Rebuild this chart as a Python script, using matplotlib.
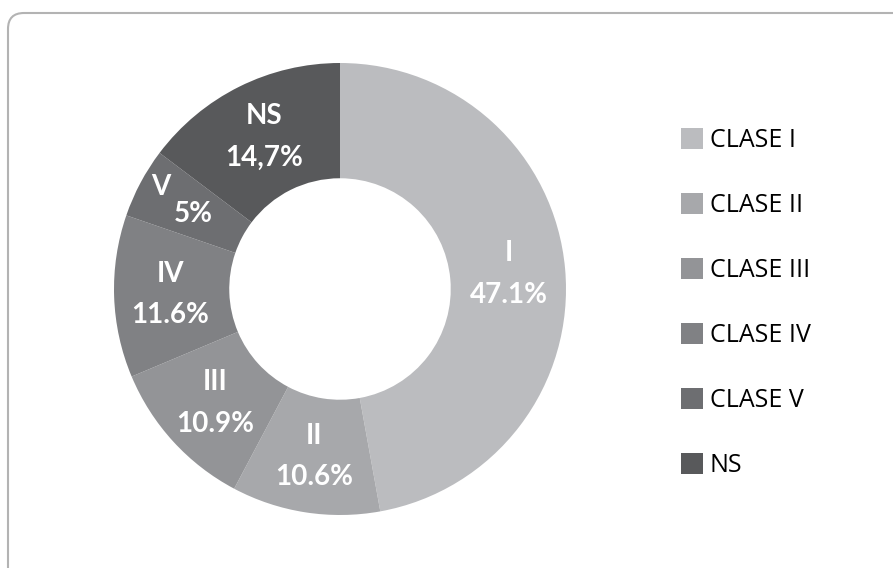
import matplotlib.pyplot as plt
import numpy as np
from matplotlib.patches import FancyBboxPatch

# data
classes = ['I', 'II', 'III', 'IV', 'V', 'NS']
pct_labels = ['47.1%', '10.6%', '10.9%', '11.6%', '5%', '14,7%']
values = [47.1, 10.6, 10.9, 11.6, 5.0, 14.7]
legend_labels = ['CLASE I', 'CLASE II', 'CLASE III', 'CLASE IV', 'CLASE V', 'NS']
colors = ['#bbbcbf', '#a7a8ab', '#939497', '#808184', '#6d6e71', '#58595b']

fig = plt.figure(figsize=(8.93, 5.68), dpi=100)

# rounded frame around the chart
frame = FancyBboxPatch((8, -40), 940, 568 - 13 + 40,
                       boxstyle='round,pad=0,rounding_size=16',
                       transform=None, fill=False, edgecolor='#b3b3b3', linewidth=1.5)
fig.patches.append(frame)

ax = fig.add_axes([114 / 893, 53 / 568, 452 / 893, 452 / 568])
wedges, _ = ax.pie(values, colors=colors, startangle=90, counterclock=False,
                   radius=1, wedgeprops=dict(width=0.51, linewidth=0))
ax.set_xlim(-1, 1)
ax.set_ylim(-1, 1)
ax.set_aspect('equal')

lab_font = dict(family=['Lato', 'DejaVu Sans'], fontsize=20, fontweight='bold', color='white')
for w, c, p in zip(wedges, classes, pct_labels):
    mid = np.deg2rad((w.theta1 + w.theta2) / 2)
    x, y = 0.75 * np.cos(mid), 0.75 * np.sin(mid)
    if c == 'V':
        ax.text(x - 0.13, y + 0.10, c, ha='center', va='center', **lab_font)
        ax.text(x + 0.015, y - 0.02, p, ha='center', va='center', **lab_font)
    else:
        ax.text(x, y, c + '\n' + p, ha='center', va='center', linespacing=1.75, **lab_font)

fig.legend(wedges, legend_labels, loc='upper left', bbox_to_anchor=(681 / 893, 1 - 128 / 568),
           frameon=False, prop=dict(family='Open Sans', size=18),
           handlelength=0.88, handleheight=0.88, handletextpad=0.28, labelspacing=1.6,
           borderaxespad=0, borderpad=0)

fig.savefig('out.png', dpi=100)
